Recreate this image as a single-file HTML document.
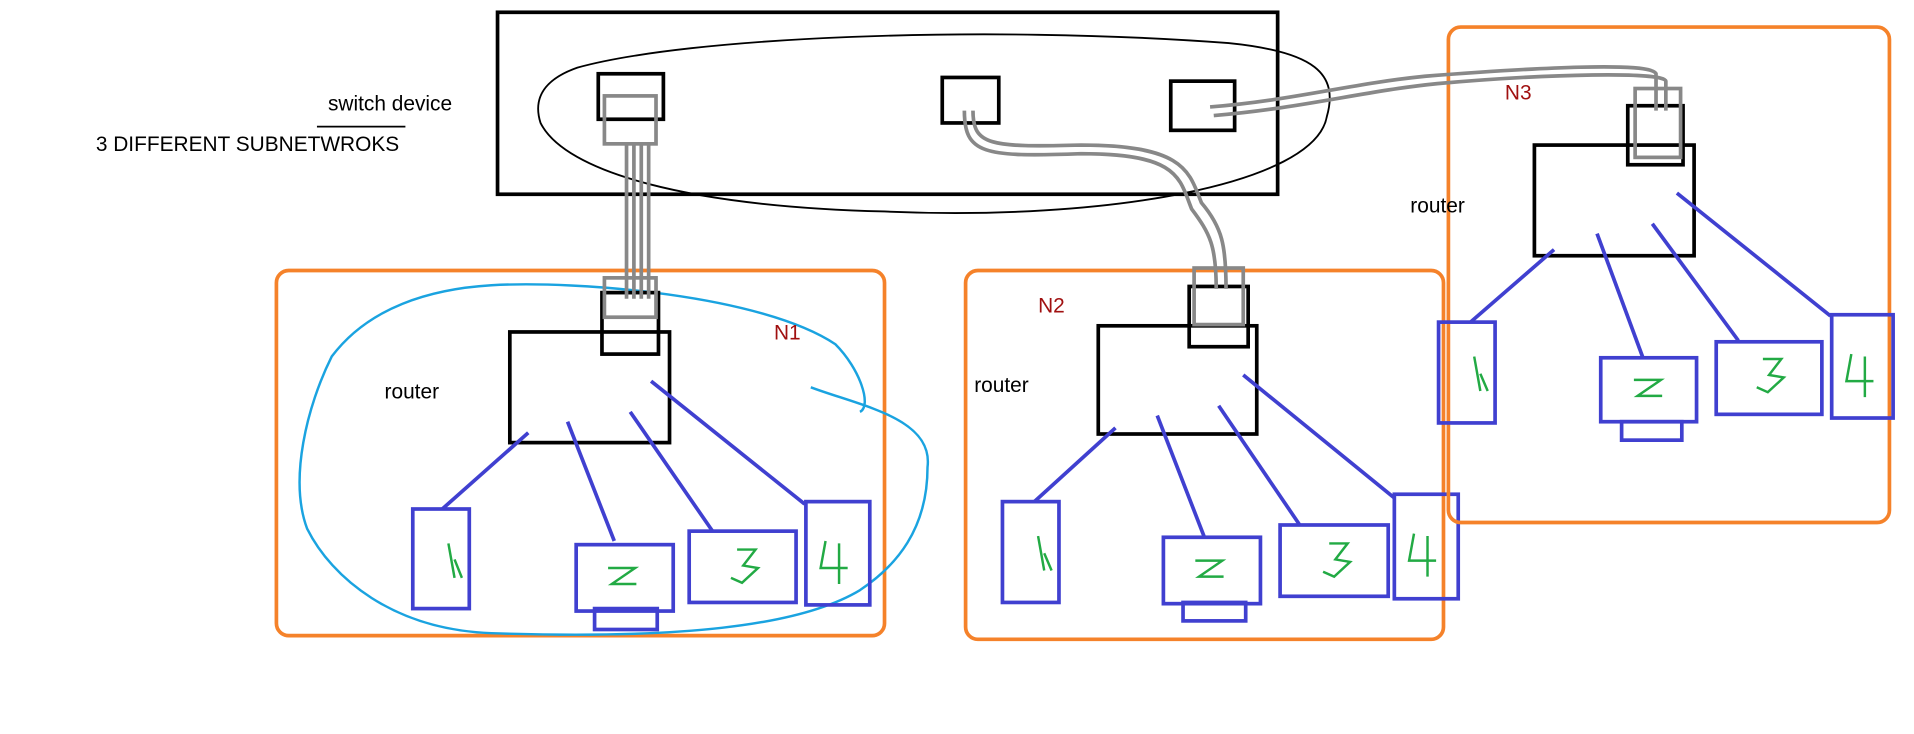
<!DOCTYPE html>
<html><head><meta charset="utf-8"><style>
html,body{margin:0;padding:0;background:#fff;}
svg{display:block;}
text{font-family:"Liberation Sans",sans-serif;}
</style></head><body>
<svg width="1914" height="734" viewBox="0 0 1558 597" preserveAspectRatio="none" xmlns="http://www.w3.org/2000/svg">
<rect x="0" y="0" width="1558" height="597" fill="#fff"/>
<!-- switch -->
<rect x="405" y="10" width="635" height="148" fill="none" stroke="#000" stroke-width="3"/>
<path d="M470,55 C560,30 800,20 1000,35 C1070,42 1090,60 1080,95 C1070,150 900,180 720,172 C560,168 460,140 440,100 C432,75 450,62 470,55 Z" fill="none" stroke="#000" stroke-width="1.5"/>
<rect x="487" y="60" width="53" height="37" fill="none" stroke="#000" stroke-width="3"/>
<rect x="767" y="63" width="46" height="37" fill="none" stroke="#000" stroke-width="3"/>
<rect x="953" y="66" width="52" height="40" fill="none" stroke="#000" stroke-width="3"/>
<text x="267" y="90" font-size="17">switch device</text>
<line x1="258" y1="103" x2="330" y2="103" stroke="#000" stroke-width="1.5"/>
<text x="78" y="123" font-size="17">3 DIFFERENT SUBNETWROKS</text>

<!-- N1 -->
<rect x="225" y="220" width="495" height="297" rx="10" fill="none" stroke="#f5822a" stroke-width="3"/>
<path d="M400,232 C470,228 620,240 680,280 C700,300 710,330 700,335 M660,315 C700,330 760,340 755,380 C755,430 730,460 700,480 C650,510 550,520 400,515 C320,512 270,470 250,430 C235,390 250,330 270,290 C300,250 350,235 400,232" fill="none" stroke="#1aa3e0" stroke-width="2"/>
<rect x="415" y="270" width="130" height="90" fill="none" stroke="#000" stroke-width="3"/>
<rect x="490" y="238" width="46" height="50" fill="none" stroke="#000" stroke-width="3"/>
<g stroke="#888" stroke-width="3" fill="none">
<rect x="492" y="78" width="42" height="39"/>
<line x1="510" y1="117" x2="510" y2="243"/><line x1="516" y1="117" x2="516" y2="243"/>
<line x1="522" y1="117" x2="522" y2="243"/><line x1="528" y1="117" x2="528" y2="243"/>
<rect x="492" y="226" width="42" height="32"/>
</g>
<text x="313" y="324" font-size="17">router</text>
<text x="630" y="276" font-size="17" fill="#a01010">N1</text>
<g stroke="#4040d0" stroke-width="3" fill="none">
<line x1="430" y1="352" x2="360" y2="414"/><line x1="462" y1="343" x2="500" y2="440"/>
<line x1="513" y1="335" x2="580" y2="432"/><line x1="530" y1="310" x2="655" y2="410"/>
<rect x="336" y="414" width="46" height="81"/>
<rect x="469" y="443" width="79" height="54"/><rect x="484" y="495" width="51" height="17"/>
<rect x="561" y="432" width="87" height="58"/>
<rect x="656" y="408" width="52" height="84"/>
</g>
<g stroke="#22aa44" stroke-width="2" fill="none">
<path d="M365,442 L370,470 M370,455 L376,470"/>
<path d="M495,462 L517,462 L498,475 L518,475"/>
<path d="M600,447 L615,447 L605,460 L617,462 L604,474 L595,470"/>
<path d="M672,440 L668,462 L690,462 M683,442 L683,475"/>
</g>

<!-- N2 -->
<rect x="786" y="220" width="389" height="300" rx="10" fill="none" stroke="#f5822a" stroke-width="3"/>
<rect x="894" y="265" width="129" height="88" fill="none" stroke="#000" stroke-width="3"/>
<rect x="968" y="233" width="48" height="49" fill="none" stroke="#000" stroke-width="3"/>
<g stroke="#888" stroke-width="3" fill="none">
<path d="M785,90 C785,125 800,128 880,125 C960,125 960,145 970,170 C985,190 990,200 990,235"/>
<path d="M792,90 C792,118 805,120 880,118 C965,118 968,140 978,165 C995,185 998,200 998,235"/>
<rect x="972" y="218" width="40" height="46"/>
</g>
<text x="845" y="254" font-size="17" fill="#a01010">N2</text>
<text x="793" y="319" font-size="17">router</text>
<g stroke="#4040d0" stroke-width="3" fill="none">
<line x1="908" y1="348" x2="842" y2="408"/><line x1="942" y1="338" x2="980" y2="436"/>
<line x1="992" y1="330" x2="1058" y2="427"/><line x1="1012" y1="305" x2="1135" y2="405"/>
<rect x="816" y="408" width="46" height="82"/>
<rect x="947" y="437" width="79" height="54"/><rect x="963" y="490" width="51" height="15"/>
<rect x="1042" y="427" width="88" height="58"/>
<rect x="1135" y="402" width="52" height="85"/>
</g>
<g stroke="#22aa44" stroke-width="2" fill="none">
<path d="M845,436 L850,464 M850,450 L856,464"/>
<path d="M973,456 L995,456 L976,469 L996,469"/>
<path d="M1082,442 L1097,442 L1087,455 L1099,457 L1086,469 L1077,465"/>
<path d="M1151,434 L1147,456 L1169,456 M1162,436 L1162,469"/>
</g>

<!-- N3 -->
<rect x="1179" y="22" width="359" height="403" rx="10" fill="none" stroke="#f5822a" stroke-width="3"/>
<rect x="1249" y="118" width="130" height="90" fill="none" stroke="#000" stroke-width="3"/>
<rect x="1325" y="86" width="45" height="48" fill="none" stroke="#000" stroke-width="3"/>
<g stroke="#888" stroke-width="3" fill="none">
<path d="M985,87 C1050,82 1100,68 1160,62 C1250,55 1345,50 1348,60 L1348,90"/>
<path d="M988,94 C1060,88 1110,74 1170,68 C1260,60 1355,58 1356,66 L1356,90"/>
<rect x="1331" y="72" width="37" height="56"/>
</g>
<text x="1225" y="81" font-size="17" fill="#a01010">N3</text>
<text x="1148" y="173" font-size="17">router</text>
<g stroke="#4040d0" stroke-width="3" fill="none">
<line x1="1265" y1="203" x2="1197" y2="262"/><line x1="1300" y1="190" x2="1337" y2="290"/>
<line x1="1345" y1="182" x2="1415" y2="277"/><line x1="1365" y1="157" x2="1490" y2="257"/>
<rect x="1171" y="262" width="46" height="82"/>
<rect x="1303" y="291" width="78" height="52"/><rect x="1320" y="343" width="49" height="15"/>
<rect x="1397" y="278" width="86" height="59"/>
<rect x="1491" y="256" width="50" height="84"/>
</g>
<g stroke="#22aa44" stroke-width="2" fill="none">
<path d="M1200,290 L1205,318 M1205,304 L1211,318"/>
<path d="M1330,309 L1352,309 L1333,322 L1353,322"/>
<path d="M1435,292 L1450,292 L1440,305 L1452,307 L1439,319 L1430,315"/>
<path d="M1507,288 L1503,310 L1525,310 M1518,290 L1518,323"/>
</g>
</svg>
</body></html>
